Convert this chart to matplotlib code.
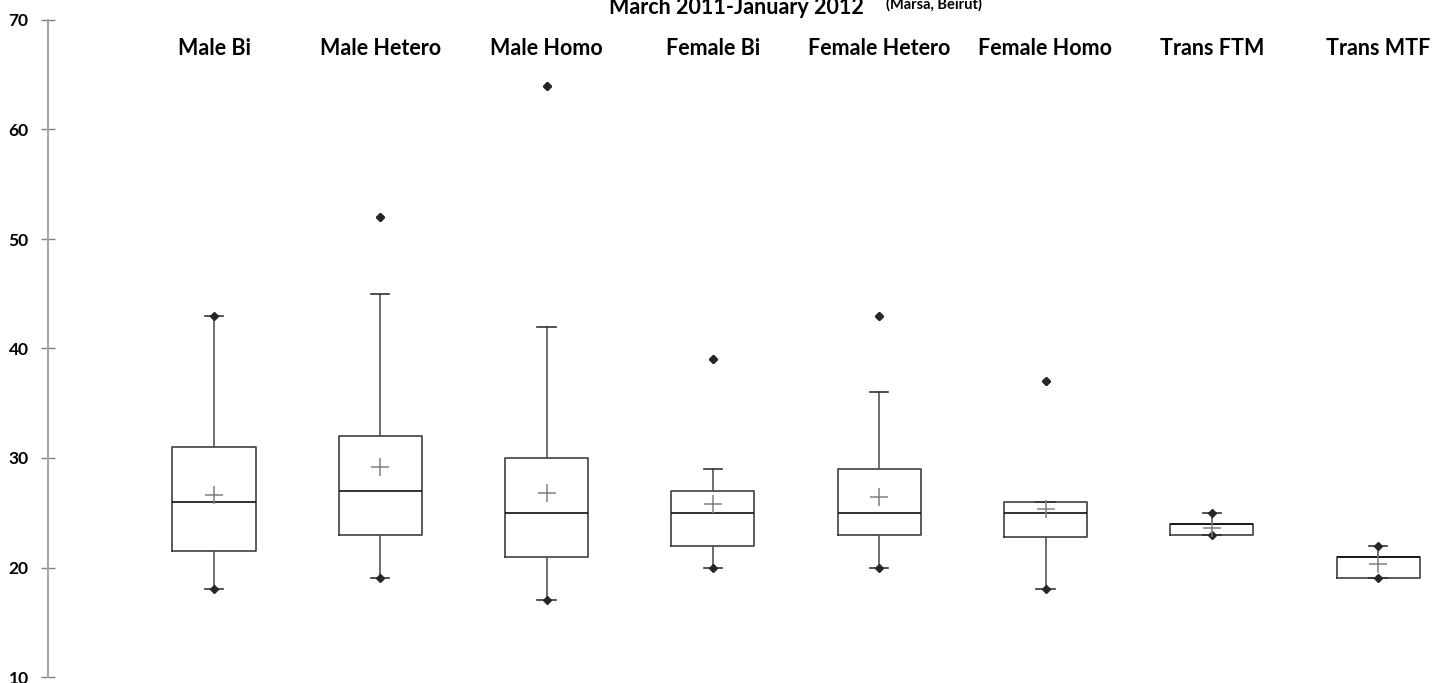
import matplotlib.pyplot as plt

groups = ['Male Bi', 'Male Hetero', 'Male Homo', 'Female Bi', 'Female Hetero',
          'Female Homo', 'Trans FTM', 'Trans MTF']
lower_whisker = [18, 19, 17, 20, 20, 18, 23, 19]
q1 = [21.5, 23, 21, 22, 23, 22.8, 23, 19]
median = [26, 27, 25, 25, 25, 25, 24, 21]
q3 = [31, 32, 30, 27, 29, 26, 24, 21]
upper_whisker = [43, 45, 42, 29, 36, 26, 25, 22]
mean = [26.6, 29.2, 26.8, 25.8, 26.4, 25.3, 23.6, 20.3]
outliers = [[], [52], [64], [39], [43], [37], [], []]

plt.rcParams['font.family'] = ['Lato', 'DejaVu Sans']

stats = []
for i, g in enumerate(groups):
    stats.append({'label': g, 'whislo': lower_whisker[i], 'q1': q1[i], 'med': median[i],
                  'q3': q3[i], 'whishi': upper_whisker[i], 'mean': mean[i],
                  'fliers': outliers[i]})

fig = plt.figure(figsize=(14.44, 6.83), dpi=100)
left = 47.7 / 1444
ax = fig.add_axes([left, 6 / 683, 1 - left, 657 / 683])

pos = list(range(1, len(groups) + 1))
ax.bxp(stats, positions=pos, widths=0.5, showmeans=True, patch_artist=False,
       boxprops=dict(color='#404040', linewidth=1.2),
       medianprops=dict(color='#111111', linewidth=1.2),
       whiskerprops=dict(color='#555555', linewidth=1.2),
       capprops=dict(color='#333333', linewidth=1.2),
       capwidths=0.11,
       meanprops=dict(marker='+', markersize=13, markeredgecolor='#808080',
                      markeredgewidth=1.1),
       flierprops=dict(marker='D', markersize=4, markerfacecolor='#262626',
                       markeredgecolor='#262626'))

# min / max points
for i, p in enumerate(pos):
    hi = max([upper_whisker[i]] + outliers[i])
    ax.plot([p, p], [lower_whisker[i], hi], linestyle='none', marker='D',
            markersize=4, color='#262626')

for i, g in enumerate(groups):
    ax.text(pos[i], 67.4, g, ha='center', va='center', fontsize=15.5, fontweight='bold')

ax.set_xlim(0, (1444 - 47.7) / 166.3)
ax.set_ylim(10, 70)
ax.set_yticks(range(10, 71, 10))
ax.set_xticks([])
for s in ['top', 'right', 'bottom']:
    ax.spines[s].set_visible(False)
ax.spines['left'].set_color('#a6a6a6')
ax.spines['left'].set_linewidth(1.5)
ax.tick_params(axis='y', direction='inout', length=9.5, width=1, color='#808080',
               labelsize=12.5, pad=9)
for lbl in ax.get_yticklabels():
    lbl.set_fontweight('bold')

fig.text(736 / 1444, 1 - 14 / 683, 'March 2011-January 2012', ha='center',
         va='baseline', fontsize=15.5, fontweight='bold')
fig.text(934 / 1444, 1 - 9 / 683, '(Marsa, Beirut)', ha='center',
         va='baseline', fontsize=10.5, fontweight='bold')

fig.savefig('out.png', dpi=100)
